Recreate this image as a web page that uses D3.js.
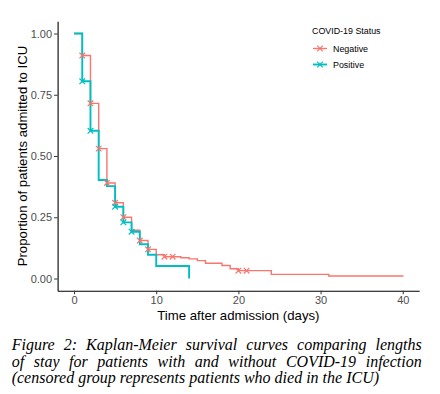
<!DOCTYPE html>
<html><head><meta charset="utf-8">
<script src="https://cdn.jsdelivr.net/npm/d3@7"></script>
<style>html,body{margin:0;padding:0;background:#fff;}svg{display:block;}</style>
</head><body>
<svg id="c" width="440" height="394"></svg>
<script>
// ---- data ----
const negTimes = [0,1,2,3,4,5,6,7,8,9,10,11,13,14,15,16,18,19,20,24,31,40];
const negSurv  = [1,0.91,0.715,0.53,0.39,0.309,0.25,0.197,0.155,0.119,0.097,0.089,0.085,0.080,0.073,0.062,0.053,0.040,0.032,0.017,0.010,0.007];
const negCensorTimes = [1,2,3,4,5,6,8,9,11,12,20,21];
const posTimes = [0,1,2,3,4,5,6,7,8,9,10,14];
const posSurv  = [1,0.805,0.603,0.402,0.377,0.293,0.229,0.191,0.140,0.097,0.051,0];
const posCensorTimes = [1,2,5,6,7];
const yTicks = [0,0.25,0.5,0.75,1];
const xTicks = [0,10,20,30,40];
const groups = ["Negative","Positive"];
const colors = ["#F8766D","#00BFC4"];
const captionLines = [
  "Figure 2: Kaplan-Meier survival curves comparing lengths",
  "of stay for patients with and without COVID-19 infection",
  "(censored group represents patients who died in the ICU)"
];

const svg = d3.select("#c");
const x = d3.scaleLinear().domain([-2,42]).range([57.6,419.2]);
const y = d3.scaleLinear().domain([-0.05,1.05]).range([290.75,21.25]);

// axes
const xAxis = d3.axisBottom(x).tickValues(xTicks).tickSizeInner(3.5).tickSizeOuter(0).tickPadding(2);
const yAxis = d3.axisLeft(y).tickValues(yTicks).tickFormat(d3.format(".2f")).tickSizeInner(3.5).tickSizeOuter(0).tickPadding(2);
const gx = svg.append("g").attr("transform","translate(0,290.75)").call(xAxis);
const gy = svg.append("g").attr("transform","translate(57.6,0)").call(yAxis);
[gx,gy].forEach(g=>{
  g.select(".domain").attr("stroke","#000").attr("stroke-width",1.1);
  g.selectAll(".tick line").attr("stroke","#333").attr("stroke-width",1);
  g.selectAll(".tick text").attr("fill","#4d4d4d").style("font-family","'Liberation Sans',Arial,sans-serif").style("font-size","11px");
});

// axis titles
svg.append("text").attr("x",238.4).attr("y",319.5).attr("text-anchor","middle")
  .style("font-family","'Liberation Sans',Arial,sans-serif").style("font-size","13.2px").attr("fill","#000")
  .text("Time after admission (days)");
svg.append("text").attr("transform","translate(26.5,156) rotate(-90)").attr("text-anchor","middle")
  .style("font-family","'Liberation Sans',Arial,sans-serif").style("font-size","13.2px").attr("fill","#000")
  .text("Proportion of patients admitted to ICU");

// curves
const line = d3.line().x(d=>x(d[0])).y(d=>y(d[1])).curve(d3.curveStepAfter);
const negData = negTimes.map((t,i)=>[t,negSurv[i]]);
const posData = posTimes.map((t,i)=>[t,posSurv[i]]);
svg.append("path").attr("d",line(negData)).attr("fill","none").attr("stroke",colors[0]).attr("stroke-width",1.4);
svg.append("path").attr("d",line(posData)).attr("fill","none").attr("stroke",colors[1]).attr("stroke-width",1.9);

function survAt(times,surv,t){let v=surv[0];for(let i=0;i<times.length;i++){if(times[i]<=t)v=surv[i];}return v;}
const xMark = "M-2.8,-2.8L2.8,2.8M-2.8,2.8L2.8,-2.8";
function marks(ct,times,surv,col){
  svg.append("g").selectAll("path").data(ct).join("path")
    .attr("d",xMark).attr("transform",t=>`translate(${x(t)},${y(survAt(times,surv,t))})`)
    .attr("stroke",col).attr("stroke-width",1.2).attr("fill","none");
}
marks(negCensorTimes,negTimes,negSurv,colors[0]);
marks(posCensorTimes,posTimes,posSurv,colors[1]);

// legend
const lg = svg.append("g");
lg.append("text").attr("x",312).attr("y",34).text("COVID-19 Status")
  .style("font-family","'Liberation Sans',Arial,sans-serif").style("font-size","8.9px").attr("fill","#000");
groups.forEach((g,i)=>{
  const yy = 48.5 + i*16;
  lg.append("line").attr("x1",313).attr("x2",327).attr("y1",yy).attr("y2",yy).attr("stroke",colors[i]).attr("stroke-width",i?1.9:1.4);
  lg.append("path").attr("d",xMark).attr("transform",`translate(320,${yy})`).attr("stroke",colors[i]).attr("stroke-width",1.2).attr("fill","none");
  lg.append("text").attr("x",333).attr("y",yy+3.2).text(g)
    .style("font-family","'Liberation Sans',Arial,sans-serif").style("font-size","8.9px").attr("fill","#000");
});

// caption (justified first two lines)
const capW = 410, capX = 11.7;
captionLines.forEach((s,i)=>{
  const t = svg.append("text").attr("x",capX).attr("y",350+i*16.7)
    .style("font-family","'Liberation Serif','Times New Roman',serif").style("font-style","italic").style("font-size","16px")
    .attr("fill","#000").text(s);
  if(i<2){
    const w = t.node().getComputedTextLength();
    const n = s.split(" ").length-1;
    t.attr("word-spacing",(capW-w)/n);
  }
});
</script>
</body></html>
